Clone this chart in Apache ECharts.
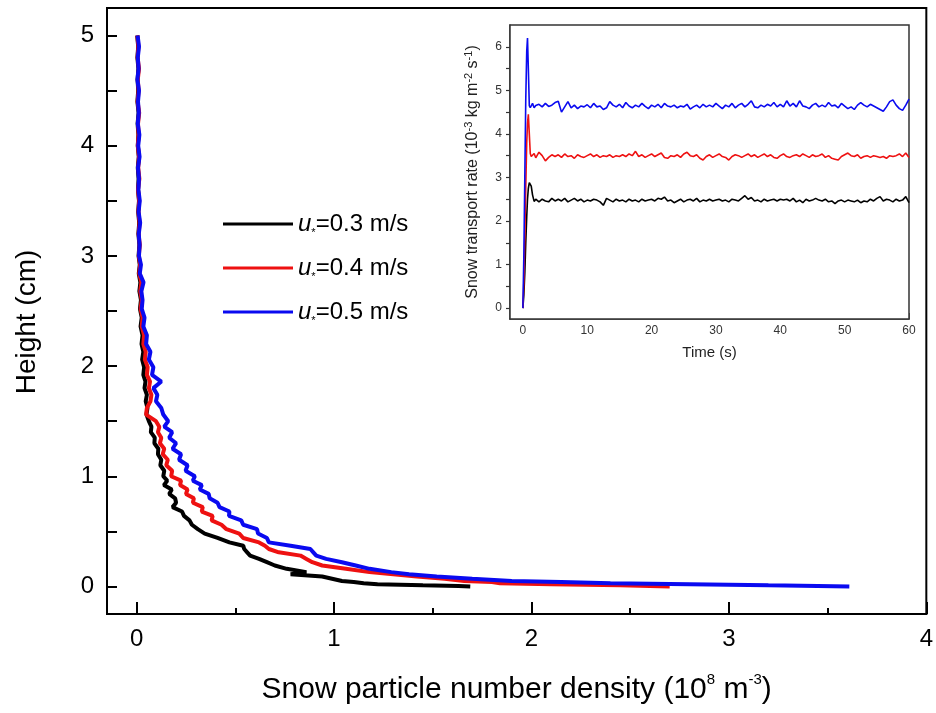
<!DOCTYPE html>
<html>
<head>
<meta charset="utf-8">
<script src="https://cdn.jsdelivr.net/npm/echarts@6/dist/echarts.min.js"></script>
<style>html,body{margin:0;padding:0;background:#fff}#c{width:936px;height:713px}</style>
</head>
<body>
<div id="c"></div>
<script>
// ---- main profile data (height in cm, density in 1e8 m^-3) ----
const heights = [5.00,4.90,4.80,4.70,4.60,4.50,4.40,4.30,4.20,4.10,4.00,3.90,3.80,3.70,3.60,3.50,3.40,3.30,3.20,3.10,
  3.00,2.92,2.84,2.76,2.68,2.60,2.52,2.44,2.36,2.28,2.20,2.13,2.06,1.99,1.92,1.86,1.80,1.74,1.68,1.62,
  1.56,1.50,1.45,1.40,1.35,1.30,1.25,1.20,1.15,1.10,1.05,1.00,0.96,0.92,0.88,0.84,0.80,0.76,0.72,0.68,
  0.64,0.60,0.56,0.52,0.48,0.44,0.40,0.37,0.34,0.31,0.28,0.25,0.22,0.19,0.16,0.13,0.11,0.09,0.07,0.05,
  0.04,0.03,0.02,0.01,0.005,0];
const densityBlack = [0.003,0.008,0.004,0.009,0.005,0.008,0.004,0.010,0.005,0.009,0.006,0.011,0.006,0.010,0.007,0.012,0.008,0.013,0.009,0.014,
  0.010,0.016,0.011,0.019,0.014,0.022,0.017,0.026,0.020,0.030,0.025,0.034,0.028,0.038,0.034,0.045,0.040,0.052,0.046,0.055,
  0.050,0.062,0.075,0.072,0.092,0.090,0.110,0.108,0.125,0.120,0.140,0.135,0.155,0.138,0.178,0.165,0.195,0.200,0.182,0.230,
  0.240,0.268,0.280,0.310,0.345,0.410,0.470,0.540,0.545,0.560,0.575,0.620,0.660,0.700,0.760,0.860,0.780,0.940,0.990,1.040,
  1.100,1.150,1.220,1.450,1.630,1.69];
const densityRed = [0.004,0.009,0.005,0.012,0.006,0.010,0.005,0.013,0.007,0.010,0.006,0.012,0.008,0.014,0.007,0.013,0.009,0.015,0.010,0.016,
  0.011,0.018,0.013,0.024,0.018,0.026,0.020,0.030,0.026,0.038,0.034,0.046,0.042,0.056,0.052,0.068,0.062,0.075,0.070,0.052,
  0.048,0.098,0.115,0.108,0.125,0.118,0.140,0.132,0.158,0.150,0.180,0.175,0.225,0.220,0.258,0.250,0.290,0.285,0.335,0.330,
  0.385,0.380,0.430,0.455,0.520,0.540,0.620,0.650,0.670,0.720,0.830,0.860,0.890,0.940,1.060,1.180,1.300,1.420,1.560,1.660,
  1.800,1.840,2.100,2.450,2.600,2.70];
const densityBlue = [0.005,0.012,0.006,0.010,0.004,0.012,0.007,0.011,0.006,0.014,0.008,0.015,0.007,0.012,0.009,0.016,0.010,0.018,0.011,0.015,
  0.012,0.022,0.016,0.035,0.024,0.030,0.026,0.040,0.034,0.052,0.048,0.070,0.062,0.085,0.078,0.125,0.085,0.105,0.098,0.125,
  0.135,0.160,0.140,0.180,0.165,0.200,0.182,0.225,0.215,0.258,0.248,0.295,0.285,0.330,0.320,0.365,0.370,0.410,0.420,0.470,
  0.468,0.530,0.540,0.610,0.615,0.660,0.670,0.780,0.880,0.895,0.910,0.960,1.040,1.110,1.180,1.290,1.380,1.520,1.700,1.900,
  2.150,2.400,2.800,3.200,3.450,3.61];
const legendNames = ['u*=0.3 m/s','u*=0.4 m/s','u*=0.5 m/s'];
const legendValues = ['=0.3 m/s','=0.4 m/s','=0.5 m/s'];
const xTickLabels = [0,1,2,3,4];
const xMinorTicks = [0.5,1.5,2.5,3.5];
const yTickLabels = [0,1,2,3,4,5];
const yTicks = [0,0.5,1,1.5,2,2.5,3,3.5,4,4.5,5];

// ---- inset time series (s, 1e-3 kg m^-2 s^-1) ----
const times = [0,0.15,0.3,0.45,0.6,0.72,0.85,1.0,1.15,1.3,1.5,1.75,2.0,
  2.5,3,3.5,4,4.5,5,
  5.5,6,6.5,7,7.5,8,8.5,9,9.5,10,
  10.5,11,11.5,12,12.5,13,13.5,14,14.5,15,
  15.5,16,16.5,17,17.5,18,18.5,19,19.5,20,
  20.5,21,21.5,22,22.5,23,23.5,24,24.5,25,
  25.5,26,26.5,27,27.5,28,28.5,29,29.5,30,
  30.5,31,31.5,32,32.5,33,33.5,34,34.5,35,
  35.5,36,36.5,37,37.5,38,38.5,39,39.5,40,
  40.5,41,41.5,42,42.5,43,43.5,44,44.5,45,
  45.5,46,46.5,47,47.5,48,48.5,49,49.5,50,
  50.5,51,51.5,52,52.5,53,53.5,54,54.5,55,
  55.5,56,56.5,57,57.5,58,58.5,59,59.5,60];
const rateBlue = [0,1.2,3.0,4.8,5.9,6.2,5.5,4.65,4.6,4.62,4.7,4.6,4.65,
  4.68,4.62,4.70,4.63,4.66,4.72,
  4.75,4.50,4.62,4.74,4.60,4.66,4.58,4.64,4.62,4.67,
  4.60,4.70,4.62,4.64,4.56,4.60,4.74,4.66,4.62,4.68,
  4.60,4.72,4.64,4.60,4.66,4.62,4.70,4.63,4.58,4.66,
  4.62,4.68,4.60,4.70,4.64,4.62,4.66,4.60,4.64,4.62,
  4.68,4.57,4.62,4.66,4.60,4.68,4.62,4.66,4.62,4.70,
  4.64,4.58,4.66,4.62,4.70,4.60,4.66,4.70,4.62,4.68,
  4.76,4.62,4.60,4.66,4.62,4.68,4.64,4.72,4.62,4.68,
  4.62,4.76,4.64,4.70,4.62,4.76,4.64,4.62,4.58,4.66,
  4.70,4.62,4.66,4.62,4.72,4.64,4.66,4.60,4.70,4.64,
  4.58,4.62,4.56,4.66,4.72,4.66,4.62,4.68,4.64,4.60,
  4.56,4.52,4.62,4.74,4.78,4.66,4.58,4.54,4.66,4.80];
const rateRed = [0,0.6,1.6,2.8,3.8,4.25,4.45,4.0,3.55,3.48,3.52,3.55,3.45,
  3.58,3.50,3.38,3.46,3.52,3.48,
  3.52,3.46,3.54,3.48,3.50,3.44,3.52,3.48,3.46,3.50,
  3.54,3.48,3.52,3.46,3.50,3.48,3.52,3.46,3.50,3.48,
  3.52,3.48,3.54,3.50,3.60,3.48,3.52,3.46,3.50,3.54,
  3.48,3.52,3.56,3.46,3.44,3.50,3.48,3.52,3.46,3.54,
  3.58,3.50,3.48,3.52,3.44,3.40,3.48,3.52,3.46,3.50,
  3.54,3.48,3.46,3.40,3.48,3.52,3.50,3.46,3.50,3.54,
  3.48,3.52,3.46,3.50,3.54,3.48,3.52,3.46,3.44,3.50,
  3.54,3.48,3.46,3.50,3.52,3.48,3.54,3.50,3.46,3.52,
  3.48,3.50,3.54,3.46,3.50,3.44,3.42,3.40,3.48,3.52,
  3.56,3.50,3.48,3.52,3.44,3.48,3.50,3.46,3.50,3.48,
  3.46,3.48,3.44,3.50,3.48,3.50,3.54,3.48,3.56,3.46];
const rateBlack = [0,0.3,0.8,1.5,2.1,2.5,2.75,2.88,2.9,2.8,2.6,2.45,2.5,
  2.44,2.50,2.46,2.44,2.52,2.46,
  2.50,2.46,2.52,2.44,2.48,2.52,2.46,2.50,2.44,2.48,
  2.46,2.50,2.48,2.44,2.36,2.52,2.48,2.44,2.50,2.46,
  2.48,2.44,2.50,2.46,2.48,2.44,2.50,2.46,2.48,2.50,
  2.46,2.52,2.50,2.55,2.46,2.48,2.42,2.46,2.50,2.44,
  2.48,2.50,2.46,2.52,2.44,2.48,2.46,2.50,2.46,2.48,
  2.50,2.46,2.48,2.44,2.50,2.48,2.46,2.52,2.58,2.50,
  2.54,2.46,2.48,2.44,2.50,2.46,2.48,2.50,2.46,2.50,
  2.48,2.50,2.46,2.52,2.44,2.48,2.42,2.50,2.46,2.48,
  2.52,2.48,2.46,2.50,2.44,2.46,2.40,2.46,2.48,2.44,
  2.48,2.46,2.44,2.48,2.42,2.46,2.44,2.50,2.46,2.52,
  2.56,2.46,2.50,2.48,2.44,2.50,2.46,2.48,2.56,2.42];
const insetXTicks = [0,10,20,30,40,50,60];
const insetXMinor = [5,15,25,35,45,55];
const insetYTicks = [0,1,2,3,4,5,6];
const insetYMinor = [0.5,1.5,2.5,3.5,4.5,5.5];

const colors = ['#000000','#ee1111','#0a0af0'];

function pairs(xs, ys) { return xs.map((x, i) => [x, ys[i]]); }

const chart = echarts.init(document.getElementById('c'), null, {renderer: 'canvas'});
const mainFont = 'Liberation Sans, Arial, sans-serif';

const option = {
  animation: false,
  backgroundColor: '#fff',
  grid: [
    {left: 107, top: 8, right: 9, bottom: 99, show: true, borderColor: '#000', borderWidth: 2, containLabel: false},
    {left: 510, top: 25, right: 27, bottom: 394, show: true, borderColor: '#333', borderWidth: 1.5, backgroundColor: '#fff', containLabel: false, z: 5}
  ],
  legend: {
    data: legendNames,
    orient: 'vertical',
    left: 218, top: 207,
    itemWidth: 70, itemHeight: 14, itemGap: 18,
    icon: 'path://M0,5.5 L70,5.5 L70,8.5 L0,8.5 Z',
    formatter: function (name) {
      const i = legendNames.indexOf(name);
      return '{u|u}{s|*}{t|' + legendValues[i] + '}';
    },
    textStyle: {
      fontFamily: mainFont, fontSize: 24, color: '#000',
      rich: {
        u: {fontFamily: mainFont, fontSize: 24, fontStyle: 'italic', color: '#000', lineHeight: 28},
        s: {fontFamily: mainFont, fontSize: 11, color: '#000', verticalAlign: 'bottom', padding: [12, 0, 0, 0]},
        t: {fontFamily: mainFont, fontSize: 24, color: '#000', lineHeight: 28}
      }
    }
  },
  xAxis: [
    {
      type: 'value', gridIndex: 0, min: -0.15, max: 4, position: 'bottom',
      name: '{t|Snow particle number density (10}{p|8}{t| m}{p|-3}{t|)}',
      nameLocation: 'middle', nameGap: 58,
      nameTextStyle: {
        rich: {
          t: {fontFamily: mainFont, fontSize: 30, color: '#000', lineHeight: 35},
          p: {fontFamily: mainFont, fontSize: 15, color: '#000', verticalAlign: 'top', lineHeight: 35, padding: [0, 0, 16, 0]}
        }
      },
      axisLine: {show: true, onZero: false, lineStyle: {color: '#000', width: 2}},
      axisTick: {show: true, inside: true, length: 12, customValues: xTickLabels, lineStyle: {color: '#000', width: 2}},
      axisLabel: {show: true, customValues: xTickLabels, margin: 13, fontFamily: mainFont, fontSize: 24, color: '#000'},
      splitLine: {show: false}
    },
    {
      type: 'value', gridIndex: 0, min: -0.15, max: 4, position: 'bottom',
      axisLine: {show: false, onZero: false},
      axisTick: {show: true, inside: true, length: 6, customValues: xMinorTicks, lineStyle: {color: '#000', width: 2}},
      axisLabel: {show: false},
      splitLine: {show: false}
    },
    {
      type: 'value', gridIndex: 1, min: -2, max: 60, position: 'bottom',
      name: 'Time (s)', nameLocation: 'middle', nameGap: 26,
      nameTextStyle: {fontFamily: mainFont, fontSize: 15, color: '#222'},
      axisLine: {show: true, onZero: false, lineStyle: {color: '#333', width: 1.5}},
      axisTick: {show: true, inside: true, length: 6, customValues: insetXTicks, lineStyle: {color: '#333', width: 1.5}},
      axisLabel: {show: true, customValues: insetXTicks, margin: 6, fontFamily: mainFont, fontSize: 12, color: '#333'},
      splitLine: {show: false}
    },
    {
      type: 'value', gridIndex: 1, min: -2, max: 60, position: 'bottom',
      axisLine: {show: false, onZero: false},
      axisTick: {show: true, inside: true, length: 3, customValues: insetXMinor, lineStyle: {color: '#333', width: 1.5}},
      axisLabel: {show: false},
      splitLine: {show: false}
    }
  ],
  yAxis: [
    {
      type: 'value', gridIndex: 0, min: -0.25, max: 5.25,
      name: 'Height (cm)', nameLocation: 'middle', nameGap: 66, nameRotate: 90,
      nameTextStyle: {fontFamily: mainFont, fontSize: 28, color: '#000', padding: [0, 22, 0, 0]},
      axisLine: {show: true, onZero: false, lineStyle: {color: '#000', width: 2}},
      axisTick: {show: true, inside: true, length: 10, customValues: yTicks, lineStyle: {color: '#000', width: 2}},
      axisLabel: {show: true, customValues: yTickLabels, margin: 13, fontFamily: mainFont, fontSize: 24, color: '#000'},
      splitLine: {show: false}
    },
    {
      type: 'value', gridIndex: 1, min: -0.25, max: 6.5,
      name: '{t|Snow transport rate (10}{p|-3}{t| kg m}{p|-2}{t| s}{p|-1}{t|)}',
      nameLocation: 'middle', nameGap: 28, nameRotate: 90,
      nameTextStyle: {
        rich: {
          t: {fontFamily: mainFont, fontSize: 16, color: '#222', lineHeight: 19},
          p: {fontFamily: mainFont, fontSize: 11, color: '#222', verticalAlign: 'top', lineHeight: 19, padding: [0, 0, 8, 0]}
        }
      },
      axisLine: {show: true, onZero: false, lineStyle: {color: '#333', width: 1.5}},
      axisTick: {show: true, inside: false, length: 4, customValues: insetYTicks.concat(insetYMinor), lineStyle: {color: '#333', width: 1.2}},
      axisLabel: {show: true, customValues: insetYTicks, margin: 8, fontFamily: mainFont, fontSize: 12, color: '#333'},
      splitLine: {show: false}
    }
  ],
  series: [
    {name: legendNames[0], type: 'line', xAxisIndex: 0, yAxisIndex: 0, data: pairs(densityBlack, heights), showSymbol: false, symbol: 'none', lineStyle: {color: colors[0], width: 4}, itemStyle: {color: colors[0]}, z: 2},
    {name: legendNames[1], type: 'line', xAxisIndex: 0, yAxisIndex: 0, data: pairs(densityRed, heights), showSymbol: false, symbol: 'none', lineStyle: {color: colors[1], width: 4}, itemStyle: {color: colors[1]}, z: 3},
    {name: legendNames[2], type: 'line', xAxisIndex: 0, yAxisIndex: 0, data: pairs(densityBlue, heights), showSymbol: false, symbol: 'none', lineStyle: {color: colors[2], width: 4}, itemStyle: {color: colors[2]}, z: 4},
    {name: 'inset-black', type: 'line', xAxisIndex: 2, yAxisIndex: 1, data: pairs(times, rateBlack), showSymbol: false, symbol: 'none', lineStyle: {color: colors[0], width: 1.6}, z: 6},
    {name: 'inset-red', type: 'line', xAxisIndex: 2, yAxisIndex: 1, data: pairs(times, rateRed), showSymbol: false, symbol: 'none', lineStyle: {color: colors[1], width: 1.6}, z: 6},
    {name: 'inset-blue', type: 'line', xAxisIndex: 2, yAxisIndex: 1, data: pairs(times, rateBlue), showSymbol: false, symbol: 'none', lineStyle: {color: colors[2], width: 1.6}, z: 6}
  ]
};
chart.setOption(option);
</script>
</body>
</html>
